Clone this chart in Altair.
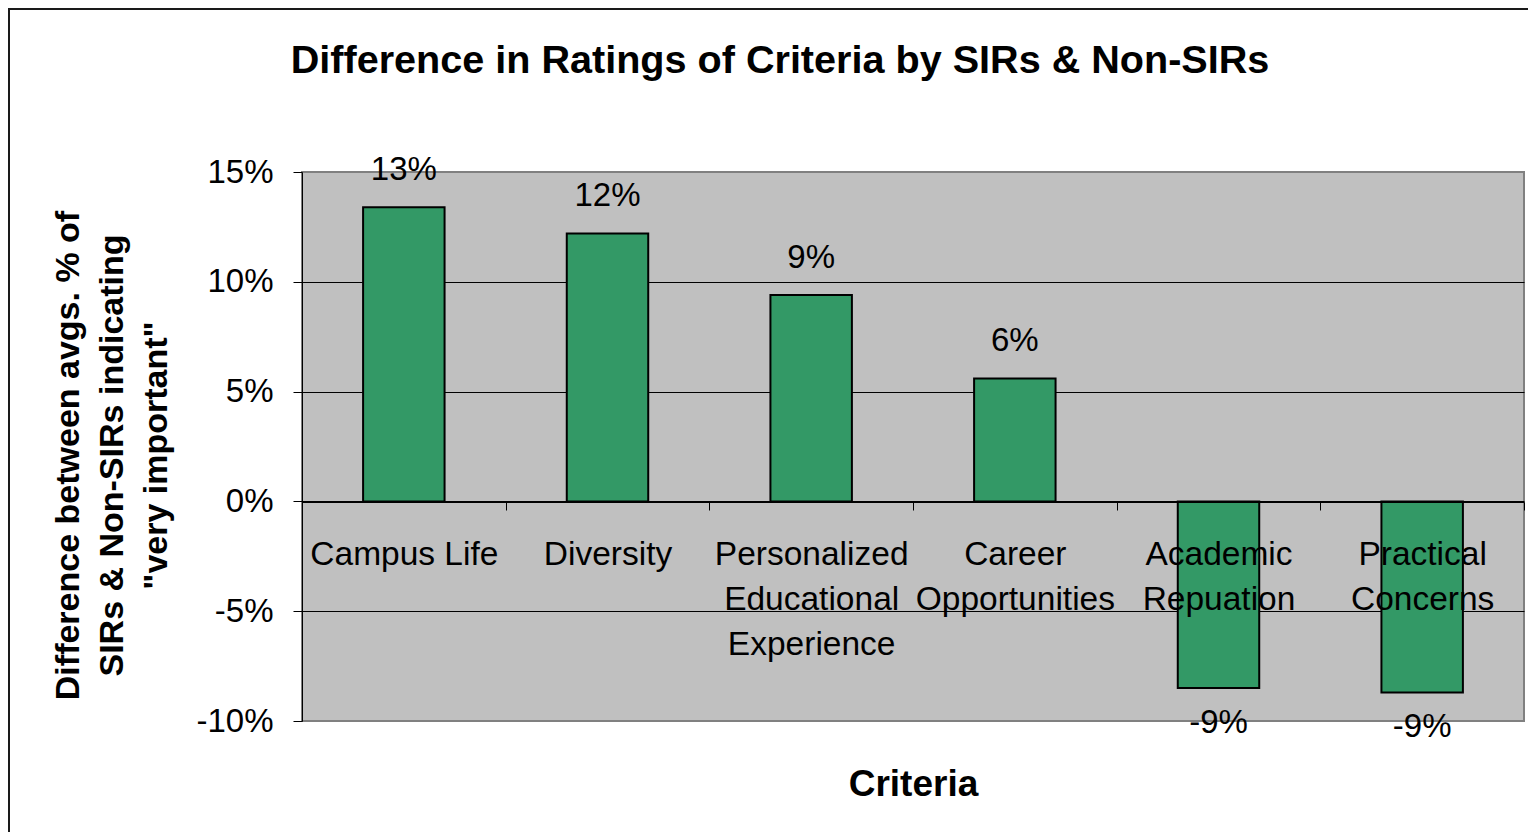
import altair as alt
import pandas as pd

categories = [
    "Campus Life",
    "Diversity",
    "Personalized\nEducational\nExperience",
    "Career\nOpportunities",
    "Academic\nRepuation",
    "Practical\nConcerns",
]
values = [0.134, 0.122, 0.094, 0.056, -0.085, -0.087]
value_labels = ["13%", "12%", "9%", "6%", "-9%", "-9%"]
y_ticks = [-0.10, -0.05, 0.0, 0.05, 0.10, 0.15]

FONT = "Liberation Sans"

df = pd.DataFrame({"criteria": categories, "diff": values, "label": value_labels})

x_scale = alt.Scale(paddingInner=0, paddingOuter=0)

x_enc = alt.X(
    "criteria:N",
    sort=categories,
    scale=x_scale,
    axis=alt.Axis(
        orient="bottom",
        offset=-219,
        domainColor="#000000",
        domainWidth=1,
        tickColor="#000000",
        tickSize=8,
        tickBand="extent",
        labelExpr="split(datum.label, '\\n')",
        labelFont=FONT,
        labelFontSize=33.5,
        labelLineHeight=45,
        labelPadding=28,
        labelAngle=0,
        labelColor="#000000",
        labelOverlap=False,
        labelLimit=0,
        title="Criteria",
        titleFont=FONT,
        titleFontSize=37,
        titleFontWeight="bold",
        titleColor="#000000",
        titleBaseline="alphabetic",
        titleY=293,
        zindex=1,
    ),
)

y_enc = alt.Y(
    "diff:Q",
    scale=alt.Scale(domain=[-0.10, 0.15], nice=False, zero=False),
    axis=alt.Axis(
        values=y_ticks,
        labelExpr="(datum.value < -0.0001 ? '-' : '') + format(abs(datum.value), '.0%')",
        labelFont=FONT,
        labelFontSize=33,
        labelColor="#000000",
        labelPadding=20,
        tickColor="#000000",
        tickSize=9,
        domainColor="#000000",
        domainWidth=1,
        grid=True,
        gridColor=alt.expr("datum.value > 0.14 || datum.value < -0.09 ? '#808080' : '#000000'"),
        gridWidth=1,
        title=['Difference between avgs. % of', 'SIRs & Non-SIRs indicating', '"very important"'],
        titleFont=FONT,
        titleFontSize=34,
        titleFontWeight="bold",
        titleColor="#000000",
        titleLineHeight=44,
        titleAngle=270,
        titleAlign="center",
        titleBaseline="middle",
        titleX=-234,
        titleY=283,
    ),
)

base = alt.Chart(df)

bars = base.mark_bar(
    color="#339966", stroke="#000000", strokeWidth=2, width=alt.RelativeBandSize(0.4)
).encode(x=x_enc, y=y_enc)

pos_labels = base.transform_filter("datum.diff > 0").mark_text(
    font=FONT, fontSize=33, color="#000000", baseline="alphabetic", dy=-27
).encode(x=alt.X("criteria:N", sort=categories), y="diff:Q", text="label:N")

neg_labels = base.transform_filter("datum.diff < 0").mark_text(
    font=FONT, fontSize=33, color="#000000", baseline="alphabetic", dy=45
).encode(x=alt.X("criteria:N", sort=categories), y="diff:Q", text="label:N")

frame_src = alt.Chart(pd.DataFrame({"f": [0]}))
frame_left = frame_src.mark_rule(color="#1a1a1a", strokeWidth=2).encode(
    x=alt.value(-293), y=alt.value(-164), y2=alt.value(660)
)
frame_top = frame_src.mark_rule(color="#1a1a1a", strokeWidth=2).encode(
    x=alt.value(-294), x2=alt.value(1226), y=alt.value(-163)
)

chart = (
    alt.layer(bars, pos_labels, neg_labels, frame_left, frame_top)
    .properties(
        width=1222,
        height=549,
        autosize="none",
        padding={"left": 294, "top": 164, "right": 4, "bottom": 111},
        background="#ffffff",
        title=alt.Title(
            "Difference in Ratings of Criteria by SIRs & Non-SIRs",
            font=FONT,
            fontSize=39.6,
            fontWeight="bold",
            color="#000000",
            anchor="middle",
            baseline="alphabetic",
            dx=-133,
            dy=106,
            offset=0,
        ),
    )
    .configure_view(fill="#C0C0C0", stroke="#808080", strokeWidth=2)
)

chart.save("out.html", embed_options={"renderer": "svg", "actions": False})
